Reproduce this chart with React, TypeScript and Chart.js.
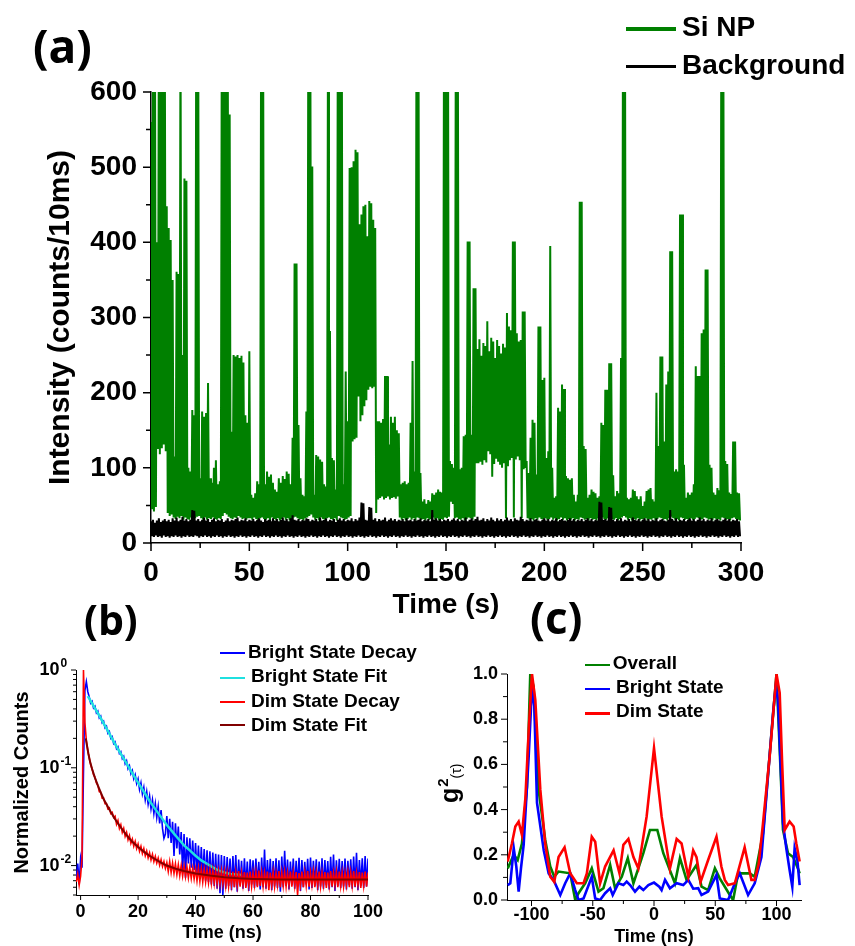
import React, { useEffect, useRef } from 'react';
import { Chart, registerables } from 'chart.js';

Chart.register(...registerables);

const AXIS_FONT = '"Liberation Sans", Arial, Helvetica, sans-serif';
const PANEL_FONT = '"Open Sans", "Liberation Sans", Arial, sans-serif';

// ---------- (a) blinking trace, counts per 10 ms bin, sampled every 0.5 s ----------
const traceStep = 0.5;
// Si NP counts at t = 0, 1, 2, ... s
const siNpOnSecond = [
  560, 700, 700, 400, 700, 700, 700, 700, 448, 419, 403, 350, 115, 361, 358, 700, 250, 485, 482, 100,
  95, 177, 170, 700, 700, 86, 175, 168, 173, 213, 86, 80, 100, 110, 78, 82, 700, 700, 700, 700,
  570, 148, 250, 248, 250, 246, 249, 240, 170, 160,
  255, 64, 60, 66, 82, 78, 700, 700, 78, 95, 88, 91, 80, 71, 68, 86, 80, 89, 85, 95,
  92, 78, 140, 372, 372, 157, 86, 64, 62, 175, 700, 700, 501, 64, 117, 115, 111, 108, 78, 75,
  700, 282, 113, 110, 71, 700, 700, 700, 78, 228,
  162, 499, 500, 508, 523, 520, 424, 437, 448, 450, 408, 455, 452, 430, 419, 162, 162, 160, 165, 222,
  222, 131, 168, 160, 168, 150, 146, 78, 80, 82, 78, 80, 160, 242, 95, 700, 700, 93, 55, 58,
  52, 57, 55, 66, 64, 67, 71, 68, 67, 700,
  700, 700, 109, 105, 100, 700, 700, 98, 100, 142, 144, 401, 401, 144, 339, 339, 258, 271, 249, 266,
  262, 295, 255, 273, 268, 246, 270, 262, 252, 265, 260, 306, 288, 283, 401, 401, 279, 268, 270, 308,
  308, 109, 93, 140, 164, 160, 91, 288, 288, 217,
  220, 113, 122, 395, 100, 60, 62, 180, 175, 211, 205, 89, 86, 84, 86, 64, 55, 64, 454, 454,
  129, 125, 60, 64, 71, 68, 66, 60, 62, 160, 157, 204, 204, 239, 239, 90, 62, 69, 66, 246,
  700, 700, 60, 58, 60, 71, 69, 62, 58, 62,
  49, 55, 69, 71, 73, 58, 55, 200, 129, 248, 248, 135, 211, 228, 388, 388, 95, 98, 95, 437,
  437, 104, 60, 67, 64, 67, 78, 235, 222, 222, 279, 284, 364, 364, 104, 100, 67, 64, 73, 70,
  700, 700, 109, 105, 67, 65, 135, 135, 67, 66,
];
// Si NP counts at t = 0.5, 1.5, 2.5, ... s
const siNpOnHalfSecond = [
  45, 42, 48, 125, 118, 126, 131, 122, 40, 36, 38, 34, 32, 35, 33, 36, 31, 34, 32, 31,
  34, 32, 33, 35, 36, 33, 31, 34, 31, 33, 32, 34, 32, 31, 33, 32, 36, 40, 38, 35,
  33, 32, 34, 33, 36, 34, 32, 33, 31, 33,
  33, 31, 34, 32, 30, 33, 34, 32, 31, 33, 30, 34, 32, 31, 33, 30, 32, 34, 31, 33,
  30, 32, 34, 35, 33, 31, 32, 30, 33, 34, 36, 38, 34, 31, 33, 30, 34, 32, 31, 33,
  34, 32, 31, 33, 30, 36, 34, 33, 31, 32,
  34, 36, 135, 138, 140, 195, 162, 170, 182, 190, 204, 208, 206, 208, 40, 58, 60, 62, 58, 60,
  62, 58, 60, 61, 59, 62, 34, 31, 33, 30, 32, 34, 31, 33, 30, 34, 33, 31, 32, 30,
  33, 31, 32, 34, 31, 33, 30, 32, 31, 34,
  33, 35, 55, 52, 33, 34, 32, 31, 33, 30, 32, 34, 33, 31, 35, 106, 106, 108, 104, 110,
  107, 122, 118, 88, 105, 112, 108, 104, 100, 106, 33, 102, 110, 113, 34, 111, 115, 110, 33, 98,
  100, 33, 31, 32, 30, 33, 31, 34, 32, 31,
  33, 31, 32, 34, 31, 33, 30, 32, 34, 31, 33, 30, 32, 31, 33, 30, 32, 31, 34, 33,
  31, 32, 30, 33, 31, 32, 30, 33, 31, 34, 32, 31, 33, 34, 32, 31, 33, 30, 32, 34,
  36, 34, 31, 33, 30, 32, 31, 33, 30, 32,
  31, 33, 30, 32, 31, 33, 30, 32, 34, 33, 31, 32, 30, 33, 35, 33, 31, 32, 30, 34,
  33, 31, 32, 30, 33, 31, 32, 34, 33, 31, 32, 34, 33, 31, 32, 30, 33, 31, 32, 30,
  34, 33, 31, 32, 30, 33, 34, 32, 31, 30,
];
// background counts at t = 0, 1, 2, ... s
const backgroundOnSecond = [
  29, 31, 27, 30, 33, 28, 30, 32, 29, 31, 28, 33, 30, 34, 29, 31, 35, 30, 32, 29,
  31, 44, 43, 30, 32, 29, 31, 34, 30, 32, 28, 31, 33, 29, 31, 30, 32, 28, 30, 33,
  29, 31, 30, 32, 34, 29, 31, 30, 33, 29,
  31, 30, 32, 29, 31, 33, 30, 28, 32, 30, 31, 29, 33, 30, 32, 29, 31, 34, 30, 32,
  29, 33, 37, 31, 30, 32, 29, 31, 30, 33, 32, 29, 31, 30, 32, 29, 34, 30, 31, 33,
  29, 31, 30, 32, 28, 31, 33, 30, 32, 29,
  31, 30, 33, 29, 32, 30, 34, 54, 53, 31, 30, 48, 47, 31, 33, 29, 32, 30, 31, 34,
  29, 31, 33, 30, 32, 29, 31, 30, 32, 29, 33, 30, 31, 29, 32, 30, 31, 33, 29, 31,
  30, 32, 29, 44, 31, 33, 30, 32, 29, 31,
  30, 32, 29, 31, 33, 30, 32, 29, 31, 30, 34, 29, 31, 33, 30, 32, 35, 30, 31, 33,
  29, 32, 30, 34, 31, 29, 33, 30, 32, 29, 31, 34, 30, 32, 29, 33, 31, 30, 35, 32,
  29, 31, 30, 33, 29, 31, 32, 30, 29, 31,
  33, 30, 32, 29, 31, 30, 33, 29, 31, 32, 30, 29, 31, 33, 30, 32, 29, 31, 30, 32,
  29, 31, 33, 30, 32, 29, 31, 30, 55, 54, 31, 32, 30, 48, 47, 31, 29, 32, 30, 33,
  29, 31, 30, 32, 29, 34, 31, 30, 32, 29,
  31, 33, 30, 32, 29, 31, 30, 33, 29, 31, 32, 30, 29, 31, 44, 32, 30, 33, 29, 31,
  30, 32, 29, 31, 33, 30, 32, 29, 31, 34, 30, 32, 29, 31, 30, 33, 29, 31, 32, 30,
  29, 31, 33, 30, 32, 29, 31, 30, 32, 29,
];
// background counts at t = 0.5, 1.5, 2.5, ... s
const backgroundOnHalfSecond = [
  9, 8, 10, 8, 9, 7, 10, 8, 9, 7, 9, 8, 10, 8, 9, 7, 9, 8, 10, 8,
  9, 8, 10, 9, 7, 9, 8, 10, 8, 9, 7, 9, 8, 10, 8, 9, 7, 9, 8, 10,
  8, 9, 7, 9, 8, 10, 8, 9, 7, 9,
  8, 10, 8, 9, 7, 9, 8, 10, 8, 9, 7, 9, 8, 10, 8, 9, 7, 9, 8, 10,
  8, 9, 7, 9, 8, 10, 8, 9, 7, 9, 8, 10, 8, 9, 7, 9, 8, 10, 8, 9,
  7, 9, 8, 10, 8, 9, 7, 9, 8, 10,
  8, 9, 7, 9, 8, 10, 8, 9, 7, 9, 8, 10, 8, 9, 7, 9, 8, 10, 8, 9,
  7, 9, 8, 10, 8, 9, 7, 9, 8, 10, 8, 9, 7, 9, 8, 10, 8, 9, 7, 9,
  8, 10, 8, 9, 7, 9, 8, 10, 8, 9,
  7, 9, 8, 10, 8, 9, 7, 9, 8, 10, 8, 9, 7, 9, 8, 10, 8, 9, 7, 9,
  8, 10, 8, 9, 7, 9, 8, 10, 8, 9, 7, 9, 8, 10, 8, 9, 7, 9, 8, 10,
  8, 9, 7, 9, 8, 10, 8, 9, 7, 9,
  8, 10, 8, 9, 7, 9, 8, 10, 8, 9, 7, 9, 8, 10, 8, 9, 7, 9, 8, 10,
  8, 9, 7, 9, 8, 10, 8, 9, 7, 9, 8, 10, 8, 9, 7, 9, 8, 10, 8, 9,
  7, 9, 8, 10, 8, 9, 7, 9, 8, 10,
  8, 9, 7, 9, 8, 10, 8, 9, 7, 9, 8, 10, 8, 9, 7, 9, 8, 10, 8, 9,
  7, 9, 8, 10, 8, 9, 7, 9, 8, 10, 8, 9, 7, 9, 8, 10, 8, 9, 7, 9,
  8, 10, 8, 9, 7, 9, 8, 10, 8, 9,
];
const traceTimeTicks = [0, 50, 100, 150, 200, 250, 300];
const intensityTicks = [0, 100, 200, 300, 400, 500, 600];
const traceLegend = [
  { label: 'Si NP', color: '#008000' },
  { label: 'Background', color: '#000000' },
];

// ---------- (b) photoluminescence decays, 0.5 ns channels from -1.5 ns ----------
const decayStart = -1.5;
const decayStep = 0.5;
const brightDecay = [
  0.0072, 0.0105, 0.0064, 0.0118, 0.0095, 0.09, 0.62, 0.76, 0.6, 0.53,
  0.458, 0.478, 0.408, 0.425, 0.364, 0.38, 0.324, 0.338, 0.288, 0.299,
  0.256, 0.266, 0.226, 0.235, 0.2, 0.208, 0.177, 0.184, 0.157, 0.164,
  0.14, 0.146, 0.124, 0.131, 0.11, 0.118, 0.098, 0.105, 0.087, 0.094,
  0.077, 0.085, 0.069, 0.077, 0.06, 0.07, 0.054, 0.063, 0.047, 0.057,
  0.0425, 0.0515, 0.038, 0.047, 0.034, 0.043, 0.031, 0.04, 0.027, 0.037,
  0.024, 0.019, 0.021, 0.032, 0.019, 0.03, 0.017, 0.028, 0.0125, 0.027,
  0.015, 0.025, 0.013, 0.022, 0.0085, 0.021, 0.0075, 0.0195, 0.0105, 0.019,
  0.0095, 0.018, 0.009, 0.017, 0.0082, 0.016, 0.0078, 0.0155, 0.0074, 0.0148,
  0.007, 0.0143, 0.0068, 0.014, 0.0064, 0.0136, 0.0062, 0.0132, 0.0058, 0.013,
  0.0052, 0.0128, 0.005, 0.0125,
  0.0058, 0.0122, 0.0062, 0.0118, 0.0056, 0.0125, 0.006, 0.0128, 0.0054, 0.0115,
  0.0063, 0.0112, 0.0058, 0.0119, 0.0061, 0.011, 0.0055, 0.0116, 0.0064, 0.0113,
  0.0059, 0.0118, 0.0062, 0.0109, 0.0057, 0.0121, 0.006, 0.0146, 0.0058, 0.0114,
  0.0063, 0.0117, 0.0056, 0.0111, 0.0061, 0.0119, 0.0059, 0.0113, 0.0054, 0.0124,
  0.006, 0.0142, 0.0062, 0.0115, 0.0057, 0.011, 0.0063, 0.0118, 0.0058, 0.0112,
  0.0061, 0.012, 0.0055, 0.0114, 0.006, 0.0109, 0.0064, 0.0117, 0.0057, 0.0121,
  0.0059, 0.0112, 0.0062, 0.0116, 0.0056, 0.011, 0.0061, 0.0119, 0.0058, 0.0114,
  0.0063, 0.0111, 0.0057, 0.0123, 0.006, 0.013, 0.0055, 0.0113, 0.0062, 0.0117,
  0.0059, 0.0111, 0.0061, 0.0118, 0.0057, 0.0112, 0.0063, 0.0116, 0.0058, 0.0124,
  0.006, 0.0135, 0.0056, 0.0114, 0.0062, 0.0119, 0.0059, 0.0125, 0.0061, 0.0118,
];
const dimDecay = [
  0.0068, 0.0082, 0.0063, 0.0078, 0.012, 1.0, 0.29, 0.19, 0.15, 0.126,
  0.108, 0.097, 0.085, 0.08, 0.07, 0.066, 0.057, 0.056, 0.049, 0.049,
  0.043, 0.043, 0.038, 0.039, 0.034, 0.035, 0.031, 0.032, 0.0264, 0.0289,
  0.0239, 0.0262, 0.0218, 0.024, 0.0199, 0.0219, 0.0183, 0.0203, 0.0169, 0.0187,
  0.0158, 0.0177, 0.0149, 0.0166, 0.014, 0.0157, 0.0133, 0.0149, 0.0126, 0.0141,
  0.012, 0.0135, 0.0114, 0.013, 0.011, 0.0124, 0.0106, 0.0119, 0.0101, 0.0115,
  0.0098, 0.011, 0.0094, 0.0107, 0.0087, 0.011, 0.0085, 0.0106, 0.0083, 0.0104,
  0.0081, 0.0102, 0.0079, 0.01, 0.0078, 0.0099, 0.0077, 0.0097, 0.0075, 0.0096,
  0.0074, 0.0094, 0.0073, 0.0093, 0.007, 0.0094, 0.0069, 0.0093, 0.0068, 0.0092,
  0.0068, 0.0091, 0.0067, 0.0091, 0.0066, 0.009, 0.0066, 0.0089, 0.0065, 0.0088,
  0.0065, 0.0088, 0.0065, 0.0087,
  0.0062, 0.0086, 0.0061, 0.0084, 0.0063, 0.0087, 0.006, 0.0085, 0.0062, 0.0088,
  0.0061, 0.0084, 0.0063, 0.0086, 0.0059, 0.0085, 0.0062, 0.0087, 0.0061, 0.0084,
  0.0063, 0.0086, 0.006, 0.0089, 0.0062, 0.0085, 0.0061, 0.0084, 0.0063, 0.0087,
  0.0056, 0.0085, 0.0062, 0.0086, 0.0061, 0.0084, 0.0063, 0.0088, 0.006, 0.0085,
  0.0062, 0.0086, 0.0061, 0.0084, 0.0063, 0.0087, 0.0061, 0.0085, 0.0062, 0.0086,
  0.005, 0.0084, 0.0063, 0.0087, 0.006, 0.0085, 0.0062, 0.0088, 0.0061, 0.0084,
  0.0063, 0.0086, 0.006, 0.0085, 0.0062, 0.0087, 0.0061, 0.0084, 0.0063, 0.0086,
  0.0059, 0.0085, 0.0062, 0.0088, 0.0061, 0.0084, 0.0063, 0.0086, 0.006, 0.0087,
  0.0062, 0.0085, 0.0061, 0.0084, 0.0063, 0.0086, 0.006, 0.0085, 0.0062, 0.0088,
  0.0061, 0.0084, 0.0063, 0.0086, 0.0059, 0.0085, 0.0062, 0.0087, 0.0061, 0.0085,
];
const brightFitTime = [2.5, 3, 4, 5, 6, 7, 8, 9, 10, 12, 14, 16, 18, 20, 22, 24, 26, 28, 30, 32, 34, 36, 38, 40, 42, 44, 46, 48, 50, 52, 56];
const brightFitCounts = [0.54, 0.51, 0.455, 0.405, 0.362, 0.322, 0.285, 0.253, 0.224, 0.175, 0.139, 0.111, 0.0879, 0.0706, 0.0569, 0.0458, 0.0378, 0.0313, 0.026, 0.0221, 0.0188, 0.0161, 0.0143, 0.0126, 0.0113, 0.0104, 0.0096, 0.0089, 0.0085, 0.0082, 0.008];
const dimFitTime = [1.8, 2.2, 2.7, 3.3, 4, 5, 6, 7, 8, 10, 12, 14, 16, 18, 20, 22, 24, 26, 28, 30, 33, 36, 40, 45, 50, 55, 60, 70, 80, 90, 100];
const dimFitCounts = [0.2, 0.17, 0.14, 0.115, 0.097, 0.079, 0.066, 0.056, 0.048, 0.0375, 0.0298, 0.0245, 0.0205, 0.0175, 0.0155, 0.0139, 0.0126, 0.0116, 0.0107, 0.01, 0.0093, 0.0088, 0.0083, 0.0079, 0.0076, 0.0074, 0.0073, 0.0072, 0.0072, 0.0072, 0.0072];
const decayTimeTicks = [0, 20, 40, 60, 80, 100];
const decadeTicks = [0.01, 0.1, 1];
const decayLegend = [
  { label: 'Bright State Decay', color: '#0000ff' },
  { label: 'Bright State Fit', color: '#1fe0e0' },
  { label: 'Dim State Decay', color: '#ff0000' },
  { label: 'Dim State Fit', color: '#800000' },
];

// ---------- (c) second-order correlation ----------
const overallTime = [-119.4, -114.5, -111.3, -107.8, -103.7, -101, -98.3, -94.2, -88.8, -84.7, -81.4, -77.9, -68.4, -64.3, -61.6, -56.2, -50.8, -45.3, -41.3, -35.8, -31.8, -26.3, -21.4, -16.8, -8.7, -3.3, 2.7, 7.6, 17.1, 21.2, 26.6, 34.7, 38.8, 44.2, 49.7, 53.7, 61.9, 64.6, 68.7, 78.2, 82.2, 89, 100, 104, 105.3, 109.4, 113.5, 117.5, 118.9];
const overallG2 = [0.14, 0.2, 0.177, 0.25, 0.5, 1.0, 0.945, 0.487, 0.266, 0.148, 0.103, 0.126, 0.118, 0.0, 0.03, 0.074, 0.14, 0.037, 0.052, 0.155, 0.052, 0.103, 0.185, 0.074, 0.207, 0.31, 0.31, 0.207, 0.074, 0.185, 0.089, 0.155, 0.059, 0.044, 0.14, 0.096, 0.022, 0.0, 0.118, 0.118, 0.103, 0.295, 1.0, 0.487, 0.31, 0.207, 0.19, 0.14, 0.118];
const brightTime = [-119.4, -117.3, -114.5, -112.4, -110.5, -108.6, -106.4, -102.3, -99.6, -97.7, -95.5, -90, -86, -82, -76.5, -72.5, -68.4, -64.3, -61.6, -57.5, -50.8, -48, -44, -39.9, -35.8, -33.7, -29, -25, -22.3, -19.5, -15.5, -11.9, -8.7, -4.6, 0, 4.3, 6.2, 9, 13, 18.5, 23.9, 28, 32, 36.1, 38.8, 44.2, 51, 53.7, 60.5, 66, 70, 76.8, 82.2, 87.7, 97.2, 99.4, 101.2, 105.3, 108, 110.7, 112.9, 114.8, 117, 118.9];
const brightG2 = [0.066, 0.074, 0.229, 0.148, 0.037, 0.14, 0.244, 0.635, 0.945, 0.857, 0.43, 0.22, 0.118, 0.089, 0.022, 0.074, 0.118, 0.044, 0.0, 0.007, 0.103, 0.007, 0.0, 0.03, 0.052, 0.022, 0.074, 0.066, 0.081, 0.066, 0.037, 0.059, 0.044, 0.066, 0.077, 0.059, 0.044, 0.089, 0.052, 0.074, 0.066, 0.089, 0.05, 0.052, 0.022, 0.037, 0.111, 0.007, 0.0, 0.074, 0.118, 0.022, 0.074, 0.19, 0.827, 0.945, 0.886, 0.34, 0.229, 0.133, 0.059, 0.229, 0.177, 0.066];
const dimTime = [-119.4, -116, -113.2, -110.5, -107.8, -105, -102, -99.6, -96.9, -92.8, -88.8, -84.7, -81.4, -77.9, -73, -68.4, -63, -57.5, -54.8, -50.8, -48, -44, -39.9, -33, -28.2, -25, -20.9, -16.8, -12.8, -6, 0, 6.2, 13, 18.5, 22.5, 28, 32, 34.7, 38, 44.2, 51, 55, 57.8, 60.5, 66, 74, 79.5, 82.2, 85.5, 89, 94.5, 100, 102.6, 104.5, 106.7, 110.7, 114, 116.2, 118.9];
const dimG2 = [0.17, 0.25, 0.325, 0.347, 0.288, 0.45, 0.78, 1.0, 0.886, 0.487, 0.25, 0.103, 0.08, 0.19, 0.233, 0.118, 0.074, 0.074, 0.118, 0.28, 0.258, 0.074, 0.148, 0.22, 0.118, 0.244, 0.27, 0.19, 0.14, 0.37, 0.672, 0.37, 0.14, 0.27, 0.25, 0.103, 0.22, 0.19, 0.08, 0.177, 0.28, 0.148, 0.089, 0.066, 0.074, 0.233, 0.089, 0.089, 0.16, 0.34, 0.64, 1.0, 0.916, 0.62, 0.31, 0.347, 0.325, 0.25, 0.17];
const delayTicks = [-100, -50, 0, 50, 100];
const g2Ticks = [0, 0.2, 0.4, 0.6, 0.8, 1.0];
const correlationLegend = [
  { label: 'Overall', color: '#008000' },
  { label: 'Bright State', color: '#0000ff' },
  { label: 'Dim State', color: '#ff0000' },
];

// ---------- helpers ----------
const midpoints = (a: number[]) => a.slice(1).map((v, i) => (v + a[i]) / 2);
const pairs = (xs: number[], ys: number[]) => xs.map((x, i) => ({ x, y: ys[i] }));
const onGrid = (ys: number[], start: number, step: number) => ys.map((y, i) => ({ x: start + i * step, y }));
const interleave = (whole: number[], half: number[]) =>
  whole.flatMap((v, k) => [{ x: k, y: v }, { x: k + traceStep, y: half[k] }]);
const tickFont = (size: number) => ({ family: AXIS_FONT, size, weight: 'bold' });
const titleFont = (size: number) => ({ family: AXIS_FONT, size, weight: 'bold', lineHeight: 1 });

function tickMarks(spec: any) {
  return {
    id: 'tickMarks',
    afterDraw(chart: any) {
      const { ctx, chartArea: a } = chart;
      const xs = chart.scales.x;
      const ys = chart.scales.y;
      ctx.save();
      ctx.strokeStyle = '#000';
      ctx.lineWidth = spec.width;
      ctx.beginPath();
      const down = (v: number, len: number) => {
        const p = xs.getPixelForValue(v);
        ctx.moveTo(p, a.bottom);
        ctx.lineTo(p, a.bottom + len);
      };
      const left = (v: number, len: number) => {
        const p = ys.getPixelForValue(v);
        ctx.moveTo(a.left, p);
        ctx.lineTo(a.left - len, p);
      };
      spec.xMajor.forEach((v: number) => down(v, spec.majorLen));
      spec.xMinor.forEach((v: number) => down(v, spec.minorLen));
      spec.yMajor.forEach((v: number) => left(v, spec.majorLen));
      spec.yMinor.forEach((v: number) => left(v, spec.minorLen));
      ctx.stroke();
      ctx.restore();
    },
  };
}

const decadeLabels = {
  id: 'decadeLabels',
  afterDraw(chart: any) {
    const { ctx, chartArea: a } = chart;
    const ys = chart.scales.y;
    ctx.save();
    ctx.fillStyle = '#000';
    decadeTicks.forEach((v) => {
      const p = ys.getPixelForValue(v);
      const x0 = a.left - 36.5;
      ctx.font = `bold 18px ${AXIS_FONT}`;
      ctx.textAlign = 'left';
      ctx.textBaseline = 'middle';
      ctx.fillText('10', x0, p);
      const w = ctx.measureText('10').width;
      ctx.font = `bold 12px ${AXIS_FONT}`;
      ctx.textBaseline = 'alphabetic';
      ctx.fillText(String(Math.round(Math.log10(v))), x0 + w + 1, p - 3);
    });
    ctx.restore();
  },
};

const g2AxisTitle = {
  id: 'g2AxisTitle',
  afterDraw(chart: any) {
    const { ctx, chartArea: a } = chart;
    ctx.save();
    ctx.translate(a.left - 49, a.top + 129);
    ctx.rotate(-Math.PI / 2);
    ctx.fillStyle = '#000';
    ctx.textAlign = 'left';
    ctx.textBaseline = 'alphabetic';
    ctx.font = `bold 25px ${AXIS_FONT}`;
    ctx.fillText('g', 0, 0);
    const gw = ctx.measureText('g').width;
    ctx.font = `bold 15px ${AXIS_FONT}`;
    ctx.fillText('2', gw + 1, -10);
    const sw = ctx.measureText('2').width;
    ctx.font = `14px ${AXIS_FONT}`;
    ctx.fillText('(τ)', gw + sw + 1, 3);
    ctx.restore();
  },
};

const baseOptions = (padding: any) => ({
  responsive: false,
  animation: false,
  devicePixelRatio: 1,
  events: [],
  layout: { padding },
  plugins: { legend: { display: false }, tooltip: { enabled: false } },
});

function buildTrace() {
  return {
    type: 'line',
    data: {
      datasets: [
        { label: traceLegend[1].label, data: interleave(backgroundOnSecond, backgroundOnHalfSecond), borderColor: traceLegend[1].color, borderWidth: 2, pointRadius: 0, order: 0 },
        { label: traceLegend[0].label, data: interleave(siNpOnSecond, siNpOnHalfSecond), borderColor: traceLegend[0].color, borderWidth: 2, pointRadius: 0, order: 1 },
      ],
    },
    options: {
      ...baseOptions({ left: 0, top: 92, right: 114, bottom: 0 }),
      scales: {
        x: {
          type: 'linear', min: 0, max: 300,
          afterBuildTicks: (s: any) => { s.ticks = traceTimeTicks.map((value) => ({ value })); },
          afterFit: (s: any) => { s.height = 82; },
          grid: { display: false, drawTicks: false },
          border: { display: true, color: '#000', width: 1.5 },
          ticks: { font: tickFont(28), color: '#000', padding: 13, maxRotation: 0, autoSkip: false },
          title: { display: true, text: 'Time (s)', color: '#000', font: titleFont(28), padding: { top: 0, bottom: 6 } },
        },
        y: {
          type: 'linear', min: 0, max: 600,
          afterBuildTicks: (s: any) => { s.ticks = intensityTicks.map((value) => ({ value })); },
          afterFit: (s: any) => { s.width = 151; },
          grid: { display: false, drawTicks: false },
          border: { display: true, color: '#000', width: 1.5 },
          ticks: { font: tickFont(28), color: '#000', padding: 14, autoSkip: false },
          title: { display: true, text: 'Intensity (counts/10ms)', color: '#000', font: titleFont(30), padding: { top: 45.5, bottom: 0 } },
        },
      },
    },
    plugins: [tickMarks({ xMajor: traceTimeTicks, xMinor: midpoints(traceTimeTicks), yMajor: intensityTicks, yMinor: midpoints(intensityTicks), majorLen: 8, minorLen: 5, width: 1.5 })],
  };
}

function buildDecay() {
  const minorDecades = [0.001, 0.01, 0.1]
    .flatMap((d) => [2, 3, 4, 5, 6, 7, 8, 9].map((m) => m * d))
    .filter((v) => v >= 0.0049 && v < 1);
  return {
    type: 'line',
    data: {
      datasets: [
        { label: decayLegend[3].label, data: pairs(dimFitTime, dimFitCounts), borderColor: decayLegend[3].color, borderWidth: 2, pointRadius: 0, order: 0 },
        { label: decayLegend[2].label, data: onGrid(dimDecay, decayStart, decayStep), borderColor: decayLegend[2].color, borderWidth: 1.6, pointRadius: 0, order: 1 },
        { label: decayLegend[1].label, data: pairs(brightFitTime, brightFitCounts), borderColor: decayLegend[1].color, borderWidth: 2.5, pointRadius: 0, order: 2 },
        { label: decayLegend[0].label, data: onGrid(brightDecay, decayStart, decayStep), borderColor: decayLegend[0].color, borderWidth: 1.6, pointRadius: 0, order: 3 },
      ],
    },
    options: {
      ...baseOptions({ left: 0, top: 30, right: 62, bottom: 0 }),
      scales: {
        x: {
          type: 'linear', min: -1.6, max: 100,
          afterBuildTicks: (s: any) => { s.ticks = decayTimeTicks.map((value) => ({ value })); },
          afterFit: (s: any) => { s.height = 51; },
          grid: { display: false, drawTicks: false },
          border: { display: true, color: '#000', width: 1 },
          ticks: { font: tickFont(18), color: '#000', padding: 6, maxRotation: 0, autoSkip: false },
          title: { display: true, text: 'Time (ns)', color: '#000', font: titleFont(18), padding: { top: 0, bottom: 4 } },
        },
        y: {
          type: 'logarithmic', min: 0.005, max: 1,
          afterBuildTicks: (s: any) => { s.ticks = decadeTicks.map((value) => ({ value })); },
          afterFit: (s: any) => { s.width = 76; },
          grid: { display: false, drawTicks: false },
          border: { display: true, color: '#000', width: 1 },
          ticks: { display: false },
          title: { display: true, text: 'Normalized Counts', color: '#000', font: titleFont(20), padding: { top: 12, bottom: 0 } },
        },
      },
    },
    plugins: [
      tickMarks({ xMajor: decayTimeTicks, xMinor: midpoints(decayTimeTicks), yMajor: decadeTicks, yMinor: minorDecades, majorLen: 5, minorLen: 3, width: 1 }),
      decadeLabels,
    ],
  };
}

function buildCorrelation() {
  return {
    type: 'line',
    data: {
      datasets: [
        { label: correlationLegend[2].label, data: pairs(dimTime, dimG2), borderColor: correlationLegend[2].color, borderWidth: 2.6, pointRadius: 0, order: 0 },
        { label: correlationLegend[1].label, data: pairs(brightTime, brightG2), borderColor: correlationLegend[1].color, borderWidth: 2.6, pointRadius: 0, order: 1 },
        { label: correlationLegend[0].label, data: pairs(overallTime, overallG2), borderColor: correlationLegend[0].color, borderWidth: 2.6, pointRadius: 0, order: 2 },
      ],
    },
    options: {
      ...baseOptions({ left: 0, top: 34, right: 54, bottom: 0 }),
      scales: {
        x: {
          type: 'linear', min: -120, max: 120,
          afterBuildTicks: (s: any) => { s.ticks = delayTicks.map((value) => ({ value })); },
          afterFit: (s: any) => { s.height = 46; },
          grid: { display: false, drawTicks: false },
          border: { display: true, color: '#000', width: 1 },
          ticks: { font: tickFont(18), color: '#000', padding: 4, maxRotation: 0, autoSkip: false },
          title: { display: true, text: 'Time (ns)', color: '#000', font: titleFont(18), padding: { top: 0, bottom: 0 } },
        },
        y: {
          type: 'linear', min: 0, max: 1,
          afterBuildTicks: (s: any) => { s.ticks = g2Ticks.map((value) => ({ value })); },
          afterFit: (s: any) => { s.width = 77; },
          grid: { display: false, drawTicks: false },
          border: { display: true, color: '#000', width: 1 },
          ticks: { font: tickFont(18), color: '#000', padding: 9, autoSkip: false, callback: (v: any) => Number(v).toFixed(1) },
        },
      },
    },
    plugins: [
      tickMarks({ xMajor: delayTicks, xMinor: midpoints(delayTicks), yMajor: g2Ticks, yMinor: midpoints(g2Ticks), majorLen: 6, minorLen: 4, width: 1 }),
      g2AxisTitle,
    ],
  };
}

function PlotCanvas({ left, top, width, height, build }: any) {
  const ref = useRef<HTMLCanvasElement>(null);
  useEffect(() => {
    const chart = new Chart(ref.current as HTMLCanvasElement, build());
    return () => chart.destroy();
  }, [build]);
  return (
    <canvas
      ref={ref}
      width={width}
      height={height}
      style={{ position: 'absolute', left, top, width, height }}
    />
  );
}

function LegendRow({ label, color, lineX, lineW, lineY, thickness, textX, textY, size }: any) {
  return (
    <>
      <div style={{ position: 'absolute', left: lineX, top: lineY - thickness / 2, width: lineW, height: thickness, background: color }} />
      <div
        style={{
          position: 'absolute', left: textX, top: textY - 0.488 * size,
          font: `bold ${size}px ${AXIS_FONT}`, lineHeight: 1, color: '#000', whiteSpace: 'nowrap',
        }}
      >
        {label}
      </div>
    </>
  );
}

function PanelLabel({ text, left, top, size }: any) {
  return (
    <div style={{ position: 'absolute', left, top, font: `bold ${size}px ${PANEL_FONT}`, lineHeight: 1, color: '#000', whiteSpace: 'nowrap' }}>
      {text}
    </div>
  );
}

export default function App() {
  const traceRows = [{ lineY: 29, textY: 27 }, { lineY: 66.7, textY: 64.5 }];
  const decayRows = [{ lineY: 653.3, textY: 651.7 }, { lineY: 677.7, textY: 675.7 }, { lineY: 701.7, textY: 700 }, { lineY: 725, textY: 724.3 }];
  const corrRows = [{ lineY: 665, textY: 662 }, { lineY: 689, textY: 686 }, { lineY: 713.3, textY: 710 }];
  return (
    <div style={{ position: 'absolute', left: 0, top: 0, width: 855, height: 946, background: '#fff', overflow: 'hidden' }}>
      <PlotCanvas left={0} top={0} width={855} height={625} build={buildTrace} />
      <PlotCanvas left={0} top={640} width={430} height={306} build={buildDecay} />
      <PlotCanvas left={430} top={640} width={425} height={306} build={buildCorrelation} />

      <PanelLabel text="(a)" left={33} top={22.3} size={46} />
      <PanelLabel text="(b)" left={84} top={598.6} size={41} />
      <PanelLabel text="(c)" left={530} top={595.4} size={44} />

      {traceLegend.map((item, i) => (
        <LegendRow key={item.label} {...item} lineX={626} lineW={50} thickness={3.5} textX={682} size={28} {...traceRows[i]} />
      ))}
      {decayLegend.map((item, i) => (
        <LegendRow key={item.label} {...item} lineX={220} lineW={25} thickness={2.2} textX={i === 0 ? 248 : 251} size={19} {...decayRows[i]} />
      ))}
      {correlationLegend.map((item, i) => (
        <LegendRow key={item.label} {...item} lineX={585} lineW={25} thickness={2.7} textX={i === 0 ? 612.7 : 616} size={19} {...corrRows[i]} />
      ))}
    </div>
  );
}
